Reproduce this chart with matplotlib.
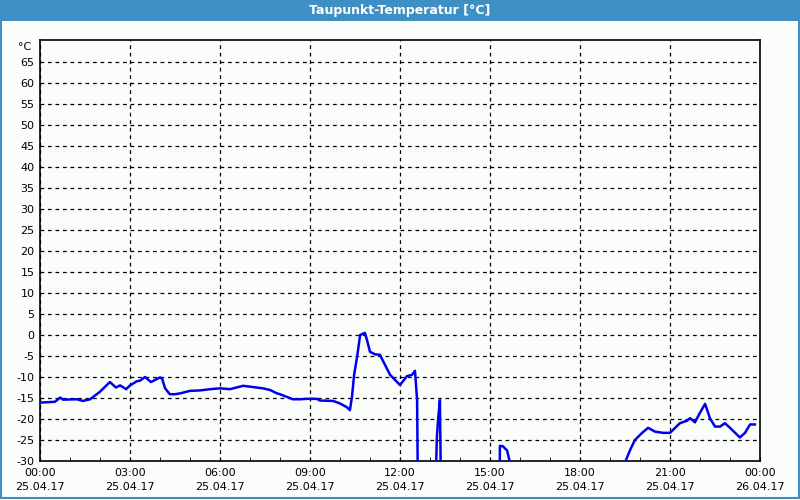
import numpy as np
import matplotlib
matplotlib.use("Agg")
import matplotlib.pyplot as plt
from matplotlib.patches import Rectangle

title = "Taupunkt-Temperatur [°C]"
unit_label = "°C"

# time in hours since 25.04.17 00:00, dew point in °C (NaN = gap)
hours = [0.0, 0.5, 0.67, 0.77, 1.23, 1.43, 1.67, 2.0, 2.33, 2.53, 2.67, 2.87, 3.0,
         3.23, 3.33, 3.5, 3.7, 4.0, 4.07, 4.17, 4.33, 4.5, 4.67, 5.0, 5.33, 5.67,
         6.0, 6.33, 6.77, 7.0, 7.43, 7.67, 7.9, 8.0, 8.43, 8.67, 8.9, 9.23, 9.33,
         9.77, 10.0, 10.23, 10.33, 10.4, 10.47, 10.57, 10.67, 10.83, 10.9, 11.0, 11.17,
         11.33, 11.67, 12.0, 12.23, 12.4, 12.5, 12.57, 12.6,
         12.61, 13.17, 13.23, 13.27, 13.33, 13.37,
         13.38, 15.32, 15.33, 15.43, 15.57, 15.67, 15.68,
         19.5, 19.53, 19.67, 19.83, 20.07, 20.27, 20.5, 20.77, 21.0, 21.17, 21.33,
         21.57, 21.67, 21.83, 22.0, 22.17, 22.33, 22.5, 22.67, 22.83, 23.0, 23.33,
         23.5, 23.67, 23.83]
dew_point = [-16.1, -15.9, -14.9, -15.4, -15.3, -15.7, -15.3, -13.5, -11.2, -12.5, -12.0, -12.9, -12.0,
             -11.0, -10.9, -10.0, -11.2, -10.1, -10.4, -12.7, -14.1, -14.1, -13.9, -13.3, -13.2, -12.9,
             -12.7, -12.9, -12.1, -12.3, -12.7, -13.1, -13.9, -14.1, -15.3, -15.3, -15.2, -15.2, -15.6,
             -15.7, -16.3, -17.2, -17.9, -14.7, -9.5, -5.2, 0.0, 0.5, -1.2, -4.0, -4.6,
             -4.7, -9.5, -11.9, -9.8, -9.5, -8.5, -15.5, -40.0,
             np.nan, -40.0, -24.2, -20.2, -15.5, -40.0,
             np.nan, -40.0, -26.4, -26.5, -27.5, -30.5, np.nan,
             -32.0, -29.8, -27.4, -25.0, -23.3, -22.1, -23.0, -23.3, -23.3, -22.1, -21.0,
             -20.4, -19.8, -20.8, -18.5, -16.4, -19.8, -21.8, -21.8, -21.0, -22.1, -24.4,
             -23.3, -21.3, -21.3]

major_hours = [0, 3, 6, 9, 12, 15, 18, 21, 24]
major_labels = ["00:00\n25.04.17", "03:00\n25.04.17", "06:00\n25.04.17", "09:00\n25.04.17",
                "12:00\n25.04.17", "15:00\n25.04.17", "18:00\n25.04.17", "21:00\n25.04.17",
                "00:00\n26.04.17"]
y_ticks = list(range(-30, 70, 5))

fig = plt.figure(figsize=(8, 5), dpi=100)
bg = "#fbfdfb"
frame_blue = "#3d8fc4"
fig.patch.set_facecolor(bg)

# window chrome: title bar and border
fig.patches.append(Rectangle((0, 1 - 21 / 500), 1, 21 / 500, transform=fig.transFigure,
                             facecolor=frame_blue, edgecolor="none", zorder=0))
fig.patches.append(Rectangle((0.5 / 800, 2 / 500), 798.5 / 800, 1 - 2 / 500, transform=fig.transFigure,
                             facecolor="none", edgecolor=frame_blue, linewidth=1.5, zorder=0))
fig.text(0.5, 1 - 10.5 / 500, title, ha="center", va="center", color="white",
         fontsize=9, fontweight="bold", family="DejaVu Sans")

ax = fig.add_axes([40 / 800, 1 - 461 / 500, 720 / 800, 421 / 500])
ax.set_facecolor(bg)
ax.plot(hours, dew_point, color="#0000ee", linewidth=1.8, zorder=3)

ax.set_xlim(0, 24)
ax.set_ylim(-30, 65 + 22 / 4.2)
ax.set_yticks(y_ticks)
ax.set_yticklabels([str(v) for v in y_ticks])
ax.set_xticks(major_hours)
ax.set_xticklabels(major_labels, linespacing=1.55)
ax.set_xticks(np.arange(0, 25, 1), minor=True)
ax.tick_params(axis="x", which="minor", direction="in", length=3, color="black")
ax.tick_params(axis="x", which="major", direction="in", length=3, pad=5, labelsize=8)
ax.tick_params(axis="y", length=0, pad=4, labelsize=8)
ax.grid(True, which="major", color="black", linestyle=(0, (3, 3)), linewidth=0.9)
for s in ax.spines.values():
    s.set_color("black")
    s.set_linewidth(1.2)
ax.text(-0.012, 68.6, unit_label, transform=ax.get_yaxis_transform(), ha="right",
        va="center", fontsize=8)

fig.savefig("out.png", dpi=100, facecolor=bg)
